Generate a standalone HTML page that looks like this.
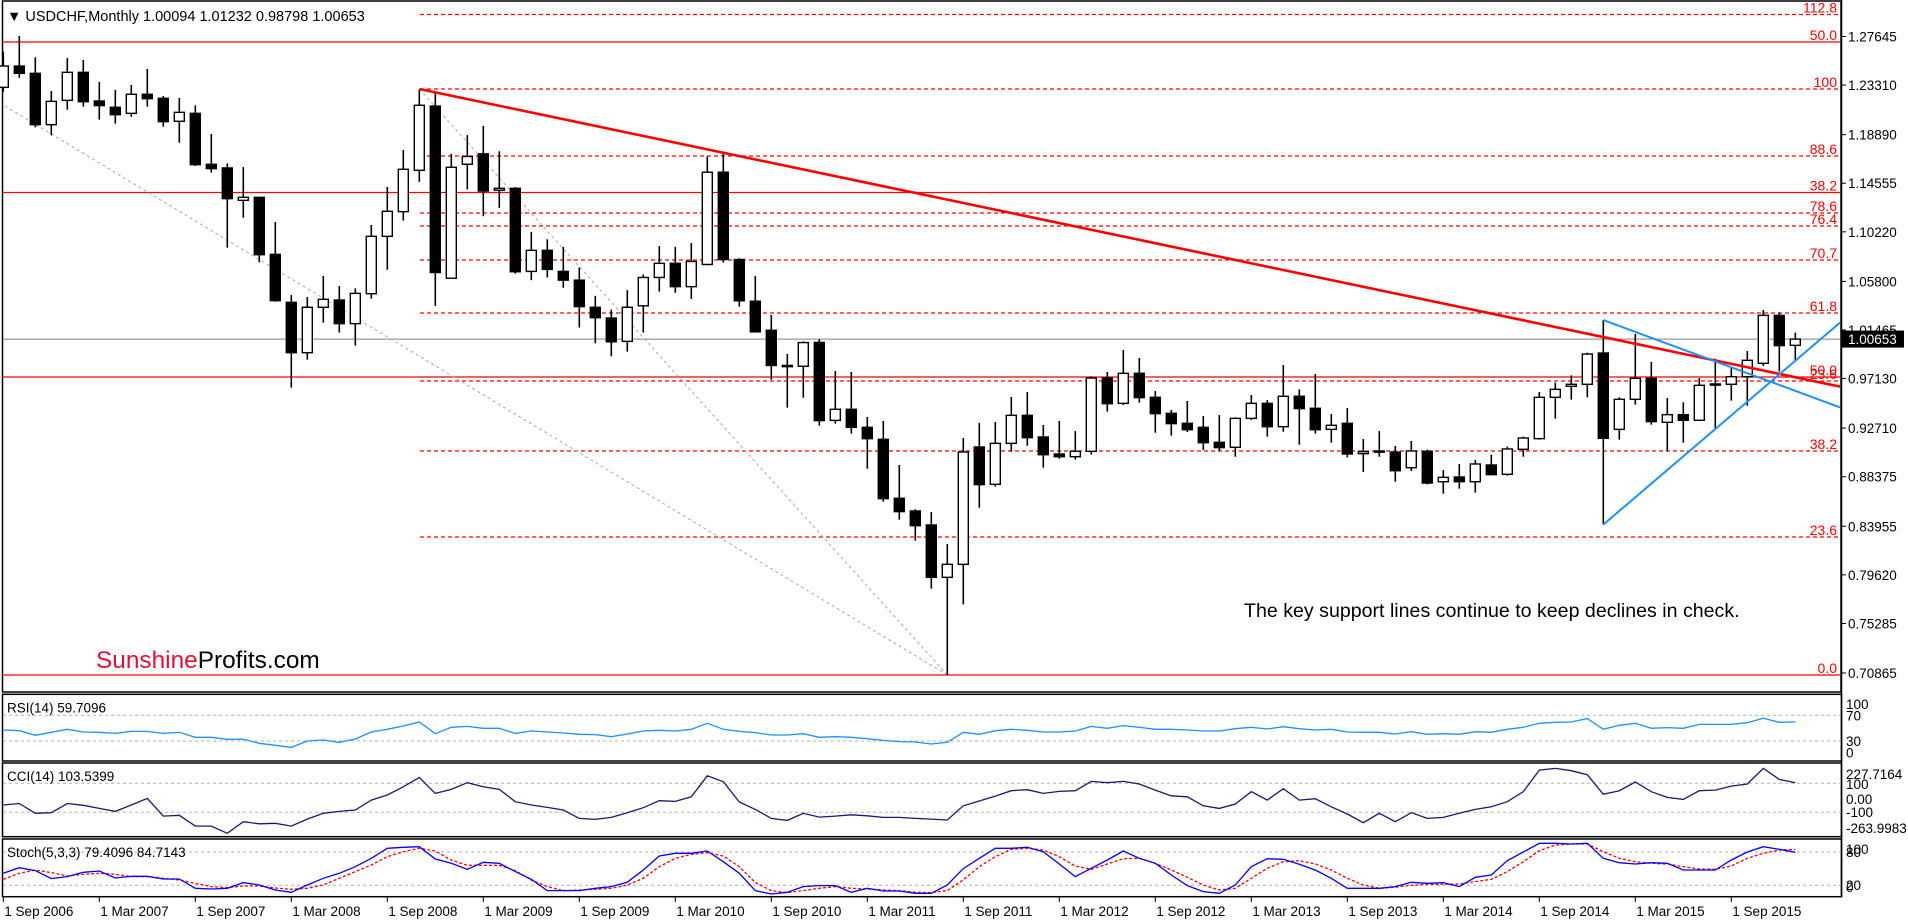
<!DOCTYPE html>
<html><head><meta charset="utf-8"><title>USDCHF Monthly</title>
<style>
html,body{margin:0;padding:0;background:#fff;}
svg{display:block;font-family:"Liberation Sans",Arial,sans-serif;}
</style></head>
<body>
<svg id="chart" xmlns="http://www.w3.org/2000/svg" width="1908" height="924" viewBox="0 0 1908 924">
<rect x="0" y="0" width="1908" height="924" fill="#fff"/>
<g id="main"></g>
<g id="rsi"></g>
<g id="cci"></g>
<g id="stoch"></g>
<g id="xaxis"></g>
</svg>
<script>
const opens=[1.2311,1.2501,1.2436,1.1978,1.2195,1.2445,1.2189,1.2133,1.2079,1.2249,1.2213,1.2008,1.2079,1.1624,1.1592,1.1303,1.1330,1.0821,1.0393,0.9944,1.0349,1.0414,1.0203,1.0470,1.0982,1.1202,1.1571,1.2144,1.0608,1.1625,1.1718,1.1393,1.1410,1.0669,1.0857,1.0669,1.0591,1.0349,1.0253,1.0045,1.0362,1.0615,1.0741,1.0533,1.0731,1.1554,1.0775,1.0403,1.0144,0.9830,0.9823,1.0036,0.9340,0.9439,0.9278,0.9171,0.8645,0.8532,0.8407,0.7940,0.8056,0.9103,0.8770,0.9135,0.9385,0.9192,0.9040,0.9016,0.9064,0.9718,0.9492,0.9760,0.9546,0.9403,0.9314,0.9278,0.9144,0.9100,0.9358,0.9492,0.9284,0.9555,0.9448,0.9260,0.9314,0.9043,0.9067,0.9058,0.8918,0.9064,0.8793,0.8835,0.8793,0.8942,0.8859,0.9082,0.9177,0.9546,0.9644,0.9662,0.9941,0.9260,0.9528,0.9715,0.9323,0.9391,0.9341,0.9665,0.9662,0.9730,0.9849,1.0277,1.00094];
const highs=[1.2629,1.2769,1.2579,1.2278,1.2572,1.2555,1.2359,1.2287,1.2332,1.2475,1.2234,1.2216,1.2150,1.1895,1.1633,1.1600,1.1330,1.1110,1.0459,1.0441,1.0628,1.0539,1.0518,1.1083,1.1422,1.1752,1.2291,1.2257,1.1718,1.1885,1.1967,1.1741,1.1421,1.1021,1.0956,1.0888,1.0704,1.0451,1.0328,1.0502,1.0642,1.0895,1.0888,1.0922,1.1694,1.1718,1.0786,1.0629,1.0280,0.9932,1.0045,1.0063,0.9781,0.9772,0.9370,0.9335,0.8942,0.8547,0.8523,0.8237,0.9183,0.9317,0.9326,0.9549,0.9593,0.9299,0.9335,0.9245,0.9733,0.9772,0.9968,0.9897,0.9602,0.9433,0.9513,0.9379,0.9388,0.9367,0.9566,0.9522,0.9834,0.9617,0.9754,0.9397,0.9451,0.9174,0.9245,0.9112,0.9156,0.9079,0.8897,0.8951,0.8987,0.9034,0.9106,0.9195,0.9593,0.9677,0.9742,0.9944,1.0235,0.9546,1.0111,0.9861,0.9540,0.9501,0.9718,0.9890,0.9819,0.9959,1.0325,1.0304,1.01232];
const lows=[1.2272,1.2397,1.1954,1.1883,1.2112,1.2139,1.2023,1.1987,1.2049,1.2139,1.1960,1.1817,1.1610,1.1550,1.0881,1.1148,1.0750,1.0399,0.9632,0.9882,1.0212,1.0123,1.0007,1.0426,1.0684,1.1122,1.1468,1.0362,1.0608,1.1400,1.1161,1.1236,1.0649,1.0591,1.0615,1.0523,1.0168,1.0028,0.9912,0.9953,1.0123,1.0489,1.0478,1.0424,1.0724,1.0748,1.0355,1.0130,0.9703,0.9454,0.9543,0.9293,0.9311,0.9222,0.8909,0.8615,0.8454,0.8267,0.7839,0.7069,0.7699,0.8561,0.8749,0.9061,0.9114,0.8918,0.8998,0.8990,0.9034,0.9418,0.9477,0.9498,0.9230,0.9204,0.9236,0.9076,0.9067,0.9016,0.9343,0.9195,0.9239,0.9123,0.9222,0.9141,0.9010,0.8880,0.9016,0.8793,0.8888,0.8769,0.8686,0.8731,0.8695,0.8856,0.8847,0.9016,0.9168,0.9355,0.9525,0.9546,0.8410,0.9168,0.9480,0.9302,0.9064,0.9141,0.9341,0.9263,0.9516,0.9471,0.9825,0.9775,0.98798];
const closes=[1.2501,1.2436,1.1978,1.2186,1.2445,1.2183,1.2148,1.2067,1.2249,1.2210,1.2005,1.2088,1.1621,1.1586,1.1318,1.1330,1.0818,1.0408,0.9944,1.0349,1.0420,1.0203,1.0473,1.0982,1.1205,1.1580,1.2151,1.0659,1.1598,1.1694,1.1386,1.1410,1.0666,1.0857,1.0687,1.0591,1.0355,1.0256,1.0041,1.0349,1.0615,1.0741,1.0533,1.0758,1.1554,1.0775,1.0407,1.0130,0.9830,0.9823,1.0034,0.9338,0.9439,0.9278,0.9177,0.8642,0.8526,0.8401,0.7940,0.8056,0.9058,0.8767,0.9135,0.9385,0.9186,0.9034,0.9016,0.9064,0.9718,0.9489,0.9760,0.9543,0.9400,0.9311,0.9257,0.9141,0.9097,0.9358,0.9492,0.9284,0.9555,0.9445,0.9257,0.9296,0.9040,0.9061,0.9061,0.8891,0.9067,0.8781,0.8832,0.8793,0.8951,0.8856,0.9085,0.9183,0.9546,0.9617,0.9662,0.9932,0.9180,0.9528,0.9715,0.9329,0.9391,0.9341,0.9653,0.9660,0.9730,0.9876,1.0277,1.0007,1.00653];
const rsiValues=[47.1,46.1,38.8,43.5,48.2,44.0,43.5,41.9,45.0,45.0,41.9,43.5,35.7,35.7,32.6,32.6,26.4,23.3,20.1,30,31.6,27.9,33.1,44.0,48.2,53.3,59.6,41.4,51.3,52.8,49.7,49.7,41.9,45.6,44.0,42.5,40.4,39.9,36.7,40.9,45.6,46.6,45.6,48.2,57.5,48.2,45.0,43.0,39.3,39.3,41.4,35.7,36.7,35.7,33.6,31.0,29.0,28.4,25.3,27.9,
43.5,40.4,46.1,48.2,46.6,44.0,44.0,45.6,52.8,49.7,53.9,51.3,48.2,48.2,47.1,45.6,45.6,49.2,51.3,48.7,52.3,49.2,47.1,48.2,44.0,43.5,43.5,40.9,44.5,40.4,41.4,40.4,44.5,43.5,48.2,51.3,57.5,59.1,59.6,64.8,48.2,54.4,57.5,49.7,50.8,49.7,55.9,55.9,55.9,58.5,65.3,59.1,59.7096];
const cciValues=[-50,-39,-107,-103,-39,-52,-73,-94,-50,-4,-126,-121,-195,-195,-245,-165,-179,-176,-195,-147,-107,-94,-84,-16,19,76,141,30,58,104,76,58,-27,-50,-66,-84,-142,-149,-135,-103,-68,-20,-25,7,152,111,-29,-80,-142,-156,-107,-133,-126,-117,-124,-135,-135,-142,-147,-153,
-55,-22,12,49,56,30,44,49,113,104,113,95,53,14,7,-55,-73,-43,42,-16,63,-16,-6,-62,-112,-172,-107,-165,-103,-142,-135,-107,-80,-62,-27,42,191,203,187,159,24,49,109,42,3,-11,49,53,81,95,203,127,103.54];
const stochMain=[41.6,51.8,46.4,32,35.6,43.4,45.8,33.2,36.2,36.2,31.4,31.4,14.6,13.4,14.6,24.8,20.6,11.6,7.4,20.6,32.6,41.6,53.6,68.6,86.6,88.4,89.6,67.4,59.6,48.8,61.4,59.6,44.6,30.8,10.4,10.4,10.4,14.6,17.6,25.4,47.6,72.8,77.6,77.6,81.8,62.6,41.6,10.4,4.4,7.4,17.6,19.4,19.4,7.4,14.6,9.8,9.8,5.6,5.6,20.6,
50,68.6,86.6,86.6,88.4,80.6,58.4,35.6,50.6,65.6,81.8,68.6,59.6,38.6,19.4,8.6,5.6,20.6,53.6,68,66.8,57.8,47.6,32.6,14.6,14.6,14.6,17.6,25.4,23.6,24.8,17.6,34.4,38.6,64.4,80,95.6,95.6,94.4,95.6,68.6,60.8,58.4,60.8,59.6,47.6,47.6,47.6,65.6,80,89.6,84.8,79.41];
const stochSignal=[30.8,41.6,47.6,42.8,36.8,39.8,41.6,39.8,35.6,35.6,32.6,29.6,23.6,17.6,15.8,18.8,18.8,15.2,12.8,14.6,20.6,32.6,44.6,56.6,71.6,80.6,86.6,81.8,65.6,56,56,56,46.4,29.6,17.6,10.4,11.6,12.8,14.6,20.6,32.6,53.6,68.6,75.8,78.8,72.8,53.6,24.8,10.4,6.8,10.4,14.6,17.6,14.6,13.4,11.6,10.4,7.4,6.8,10.4,
30,53.6,71.6,84.8,86.6,83.6,71.6,54.8,48.8,58.4,68,68.6,59.6,47.6,34.4,20.6,11.6,14.6,32.6,50.6,62.6,64.4,58.4,47.6,32.6,20.6,14.6,16.4,20,21.8,21.8,22.4,26.6,30.8,44.6,62.6,82.4,92.6,94.4,94.4,80.6,68.6,62.6,59.6,58.4,53.6,49.4,48.8,54.8,68.6,77.6,83.6,84.71];
const priceTicks=[1.27645,1.23310,1.18890,1.14555,1.10220,1.05800,1.01465,0.97130,0.92710,0.88375,0.83955,0.79620,0.75285,0.70865];
const dateLabels=["1 Sep 2006","1 Mar 2007","1 Sep 2007","1 Mar 2008","1 Sep 2008","1 Mar 2009","1 Sep 2009","1 Mar 2010","1 Sep 2010","1 Mar 2011","1 Sep 2011","1 Mar 2012","1 Sep 2012","1 Mar 2013","1 Sep 2013","1 Mar 2014","1 Sep 2014","1 Mar 2015","1 Sep 2015"];
const fibLevels=[["112.8",14.5,"dot"],["50.0",42,"solid"],["100",89,"dot"],["88.6",156,"dot"],["38.2",192.5,"solid"],["78.6",213,"dot"],["76.4",226,"dot"],["70.7",260,"dot"],["61.8",313,"dot"],["50.0",377,"solid"],["23.6",381,"dot"],["38.2",451,"dot"],["23.6",537,"dot"],["0.0",675,"solid"]];
const trendRed=[26,1.2296,114.8,0.9641];
const blueUpper=[100,1.0235,114.8,0.9456];
const blueLower=[100,0.8410,114.8,1.0213];
const grayFan1=[0.1,1.2145,59,0.7069];
const grayFan2=[26,1.2296,59,0.7069];
const lastPrice=1.00653;

const NS="http://www.w3.org/2000/svg";
function xAt(i){return 3.3+16*i;}
function yP(p){return 36.5+(1.27645-p)*1121;}
function yR(v){return 741-(v-30)*0.6425;}
function yC(v){return 797.8-v*0.145;}
function yS(v){return 896.4-v*0.555;}
function mk(parent,tag,attrs,text){const e=document.createElementNS(NS,tag);for(const k in attrs)e.setAttribute(k,attrs[k]);if(text!==undefined)e.textContent=text;parent.appendChild(e);return e;}

const main=document.getElementById('main');
let el;
el=mk(main,'rect',{x:2.5,y:1,width:1838.5,height:691,fill:'none',stroke:'#000','stroke-width':1.5});


fibLevels.forEach(f=>{
  const solid=f[2]==='solid';
  const l=mk(main,'line',{x1:solid?3:420,x2:1840,y1:f[1],y2:f[1],stroke:'#ff0000','stroke-width':solid?1.3:1.2,'stroke-dasharray':solid?'none':'4,3'});
  
  
  const t=mk(main,'text',{x:1837,y:f[1]-2,'text-anchor':'end','font-size':14,fill:'#ff0000'},f[0]);
  
  
});
el=mk(main,'line',{x1:3,x2:1840,y1:yP(lastPrice),y2:yP(lastPrice),stroke:'#808080','stroke-width':1});


[grayFan1,grayFan2].forEach(g=>{
  const l=mk(main,'line',{x1:xAt(g[0]),y1:yP(g[1]),x2:xAt(g[2]),y2:yP(g[3]),stroke:'#a8a8a8','stroke-width':1,'stroke-dasharray':'3,3'});
  
  
});
for(let i=0;i<opens.length;i++){
  const g=mk(main,'g',{});
  
  
  const x=xAt(i),o=opens[i],c=closes[i],up=c>=o;
  mk(g,'line',{x1:x,x2:x,y1:yP(highs[i]),y2:yP(lows[i]),stroke:'#000','stroke-width':1.6});
  const top=yP(Math.max(o,c)),bot=yP(Math.min(o,c));
  mk(g,'rect',{x:x-5,y:top,width:10,height:Math.max(bot-top,1.2),fill:up?'#fff':'#000',stroke:'#000','stroke-width':1.4});
}
el=mk(main,'line',{x1:xAt(trendRed[0]),y1:yP(trendRed[1]),x2:xAt(trendRed[2]),y2:yP(trendRed[3]),stroke:'#ff0000','stroke-width':2.6});


el=mk(main,'line',{x1:xAt(blueUpper[0]),y1:yP(blueUpper[1]),x2:xAt(blueUpper[2]),y2:yP(blueUpper[3]),stroke:'#1e90ff','stroke-width':2});


el=mk(main,'line',{x1:xAt(blueLower[0]),y1:yP(blueLower[1]),x2:xAt(blueLower[2]),y2:yP(blueLower[3]),stroke:'#1e90ff','stroke-width':2});


mk(main,'rect',{x:1842,y:0,width:66,height:924,fill:'#fff'});
el=mk(main,'line',{x1:1841.5,x2:1841.5,y1:0,y2:897,stroke:'#000','stroke-width':1.5});


priceTicks.forEach(p=>{
  const y=yP(p);
  mk(main,'line',{x1:1841,x2:1846,y1:y,y2:y,stroke:'#000','stroke-width':1});
  const t=mk(main,'text',{x:1848,y:y+5,'font-size':13.5,fill:'#000'},p.toFixed(5));
  
  
});
el=mk(main,'rect',{x:1842,y:yP(lastPrice)-8.5,width:62,height:17,fill:'#000'});


el=mk(main,'text',{x:1848,y:yP(lastPrice)+5,'font-size':13.5,fill:'#fff'},lastPrice.toFixed(5));


el=mk(main,'text',{x:7,y:21,'font-size':14.5,fill:'#000'},'▼ USDCHF,Monthly  1.00094 1.01232 0.98798 1.00653');


el=mk(main,'text',{x:1244,y:617,'font-size':19.6,fill:'#000'},'The key support lines continue to keep declines in check.');


const brand=mk(main,'text',{x:96,y:668,'font-size':24.4,fill:'#e0103a'});


mk(brand,'tspan',{},'Sunshine');
mk(brand,'tspan',{fill:'#000'},'Profits.com');

function panel(gid,y0,y1,name,levels,yfun,labels,title){
  const g=document.getElementById(gid);
  let r=mk(g,'rect',{x:2.5,y:y0,width:1839,height:y1-y0,fill:'none',stroke:'#000','stroke-width':1.5});
  
  
  levels.forEach(v=>{
    const l=mk(g,'line',{x1:3,x2:1840,y1:yfun(v),y2:yfun(v),stroke:'#b0b0b0','stroke-width':1,'stroke-dasharray':'3,3'});
    
    
  });
  labels.forEach(lb=>{
    const t=mk(g,'text',{x:1846,y:lb[1]+5,'font-size':13.5,fill:'#000'},lb[0]);
    
    
  });
  const t=mk(g,'text',{x:7,y:y0+18,'font-size':13.5,fill:'#000'},title);
  
  
  return g;
}
function series(g,vals,yfun,color,w,dash,name){
  const pts=vals.map((v,i)=>xAt(i).toFixed(1)+','+yfun(v).toFixed(1)).join(' ');
  const p=mk(g,'polyline',{points:pts,fill:'none',stroke:color,'stroke-width':w,'stroke-dasharray':dash||'none'});
  
  
}
let g1=panel('rsi',694.3,761,'rsi',[70,30],yR,[['100',yR(100)+8],['70',yR(70)],['30',yR(30)],['0',yR(0)-8]],'RSI(14) 59.7096');
series(g1,rsiValues,yR,'#1e90ff',1.3,null,'rsi-line');
let g2=panel('cci',763,836.7,'cci',[100,-100],yC,[['227.7164',774],['100',784],['0.00',799],['-100',812],['-263.9983',828]],'CCI(14) 103.5399');
series(g2,cciValues,yC,'#191970',1.3,null,'cci-line');
let g3=panel('stoch',839,896.7,'stoch',[80,20],yS,[['100',849],['80',852],['20',885],['0',887]],'Stoch(5,3,3) 79.4096 84.7143');
series(g3,stochSignal,yS,'#ff0000',1.3,'3,2','stoch-signal-line');
series(g3,stochMain,yS,'#0000ff',1.3,null,'stoch-main-line');

const xa=document.getElementById('xaxis');
dateLabels.forEach((s,k)=>{
  const x=xAt(k*6);
  mk(xa,'line',{x1:x,x2:x,y1:897,y2:902,stroke:'#000','stroke-width':1});
  const t=mk(xa,'text',{x:x+1,y:916,'font-size':13.5,fill:'#000'},s);
  
  
});
</script>
</body></html>
